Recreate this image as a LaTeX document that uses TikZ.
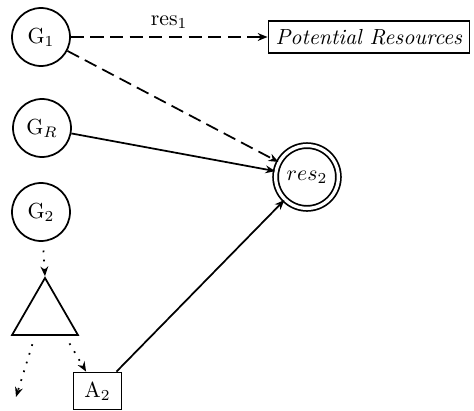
\documentclass[tikz,border=0pt]{standalone}
\usetikzlibrary{arrows.meta,shapes.geometric}
\begin{document}
\begin{tikzpicture}[x=0.4587pt,y=-0.4587pt,
  goal/.style={circle,draw,thick,minimum size=26.6pt,inner sep=1pt},
  resnode/.style={circle,draw,thick,double,double distance=1.5pt,minimum size=28.8pt,inner sep=1pt},
  boxnode/.style={rectangle,draw,thick},
  tip/.style={-{Stealth[length=4.5pt,width=3.6pt]}},
  link/.style={tip,thick},
  dashlink/.style={link,dash pattern=on 6pt off 3pt},
  dotlink/.style={tip,thick,dash pattern=on 0.8pt off 3.4pt,shorten <=4pt},
  ]
\useasboundingbox (0,0) rectangle (474,411);

% goal nodes
\node[goal] (G1) at (41,37) {G$_1$};
\node[goal] (GR) at (42,128) {G$_R$};
\node[goal] (G2) at (41,212) {G$_2$};

% resources
\node[boxnode,minimum height=15pt,inner sep=3.33pt] (PR) at (369,37) {\textit{Potential Resources}};
\node[resnode] (R2) at (307,177) {$res_2$};

% plan structure
\node[draw,thick,regular polygon,regular polygon sides=3,minimum size=34.9pt,inner sep=0pt] (tri) at (45,316) {};
\node[boxnode,minimum width=22pt,minimum height=17pt] (A2) at (97.5,391) {A$_2$};
\coordinate (out) at (16,397);

% connectors
\draw[dashlink] (G1) -- node[above]{res$_1$} (PR);
\draw[dashlink] (G1) -- (R2);
\draw[link] (GR) -- (R2);
\draw[link] (A2) -- (R2);
\draw[dotlink] (G2) -- (tri.corner 1);
\draw[dotlink] ([xshift=-4.6pt]tri.south) -- (out);
\draw[dotlink] ([xshift=9.2pt]tri.south) -- (A2);
\end{tikzpicture}
\end{document}
